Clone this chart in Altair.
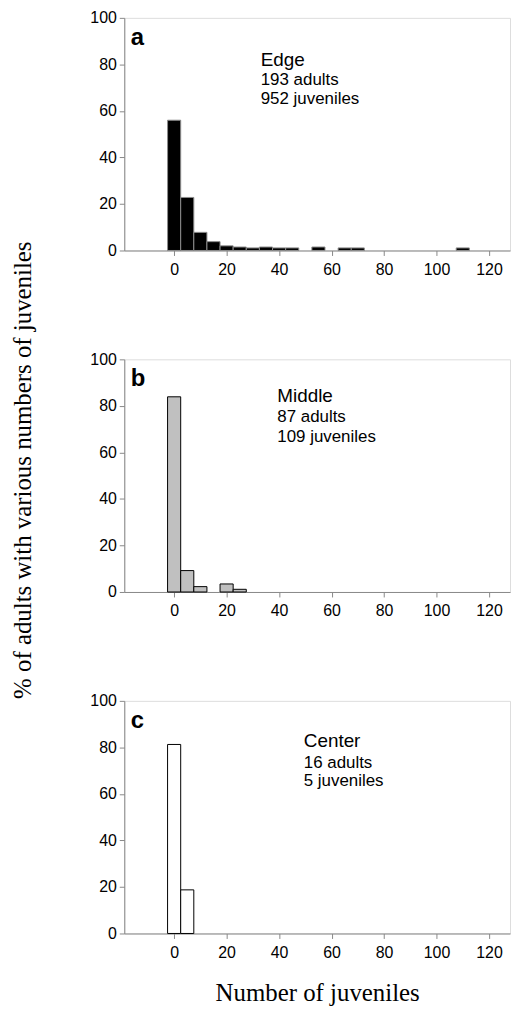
import altair as alt
import pandas as pd

# ---- data ----
x_ticks = [0, 20, 40, 60, 80, 100, 120]
y_ticks = [0, 20, 40, 60, 80, 100]

edge_bins = [0, 5, 10, 15, 20, 25, 30, 35, 40, 45, 55, 65, 70, 110]
edge_pct = [56.0, 22.8, 7.8, 3.8, 2.0, 1.5, 1.1, 1.5, 1.1, 1.1, 1.5, 1.1, 1.1, 1.1]

middle_bins = [0, 5, 10, 20, 25]
middle_pct = [83.9, 9.2, 2.3, 3.45, 1.15]

center_bins = [0, 5]
center_pct = [81.25, 18.75]

panel_letters = ["a", "b", "c"]
site_names = ["Edge", "Middle", "Center"]
adult_counts = ["193 adults", "87 adults", "16 adults"]
juvenile_counts = ["952 juveniles", "109 juveniles", "5 juveniles"]

BIN_HALF = 2.5
X_DOMAIN = [-19, 128]
W, H = 388, 234

# annotation anchor points (data units) for each panel
name_x = [33, 39.3, 49.4]
name_y = [79.5, 81.8, 80.1]
line2_y = [71.2, 72.9, 71.2]
line3_y = [62.8, 64.4, 63.3]

SANS = "Liberation Sans"
SERIF = "Liberation Serif"


def panel(i, bins, pct, fill, stroke, x_title, y_title):
    df = pd.DataFrame({"bin": bins, "pct": pct})
    xscale = alt.Scale(domain=X_DOMAIN, nice=False, zero=False)
    yscale = alt.Scale(domain=[0, 100], nice=False)

    xaxis_kw = dict(values=x_ticks, labelFontSize=16, labelFont=SANS,
                    tickSize=5, labelPadding=6, grid=False)
    if x_title:
        xaxis_kw.update(titleFont=SERIF, titleFontSize=25,
                        titleFontWeight="normal", titlePadding=20)
    yaxis_kw = dict(values=y_ticks, labelFontSize=16, labelFont=SANS,
                    tickSize=5, labelPadding=3, grid=False)
    if y_title:
        yaxis_kw.update(titleFont=SERIF, titleFontSize=25,
                        titleFontWeight="normal", titleX=-89, titleY=111)

    bars = alt.Chart(df).transform_calculate(
        x0=f"datum.bin - {BIN_HALF}", x1=f"datum.bin + {BIN_HALF}"
    ).mark_bar(fill=fill, stroke=stroke, strokeWidth=1, opacity=1).encode(
        x=alt.X("x0:Q", scale=xscale, axis=alt.Axis(**xaxis_kw),
                title=x_title if x_title else None),
        x2="x1:Q",
        y=alt.Y("pct:Q", scale=yscale, axis=alt.Axis(**yaxis_kw),
                title=y_title if y_title else None),
        y2=alt.datum(0),
    )

    letter_df = pd.DataFrame({"x": [-16.5], "y": [88.5], "t": [panel_letters[i]]})
    name_df = pd.DataFrame({"x": [name_x[i]], "y": [name_y[i]], "t": [site_names[i]]})
    info_df = pd.DataFrame({"x": [name_x[i], name_x[i]],
                            "y": [line2_y[i], line3_y[i]],
                            "t": [adult_counts[i], juvenile_counts[i]]})

    def txt(d, size, weight):
        return alt.Chart(d).mark_text(
            align="left", baseline="alphabetic", font=SANS, fontSize=size,
            fontWeight=weight, color="black"
        ).encode(
            x=alt.X("x:Q", scale=xscale),
            y=alt.Y("y:Q", scale=yscale),
            text="t:N",
        )

    return alt.layer(
        bars,
        txt(letter_df, 24, "bold"),
        txt(name_df, 19, "normal"),
        txt(info_df, 17, "normal"),
    ).properties(width=W, height=H)


pa = panel(0, edge_bins, edge_pct, "black", "#8c8c8c", None, None)
pb = panel(1, middle_bins, middle_pct, "#c0c0c0", "black", None,
           "% of adults with various numbers of juveniles")
pc = panel(2, center_bins, center_pct, "white", "black",
           "Number of juveniles", None)

chart = alt.vconcat(pa, pb, pc, spacing=109.5, bounds="flush").properties(
    padding={"left": 10, "top": 6, "right": 0, "bottom": 0}
).configure_view(stroke="transparent", strokeWidth=0).configure_axis(
    domainColor="black", tickColor="black", labelColor="black",
    titleColor="black", domainWidth=1, tickWidth=1
).configure(background="white")

chart.save("out.html", embed_options={"renderer": "svg", "actions": False})
